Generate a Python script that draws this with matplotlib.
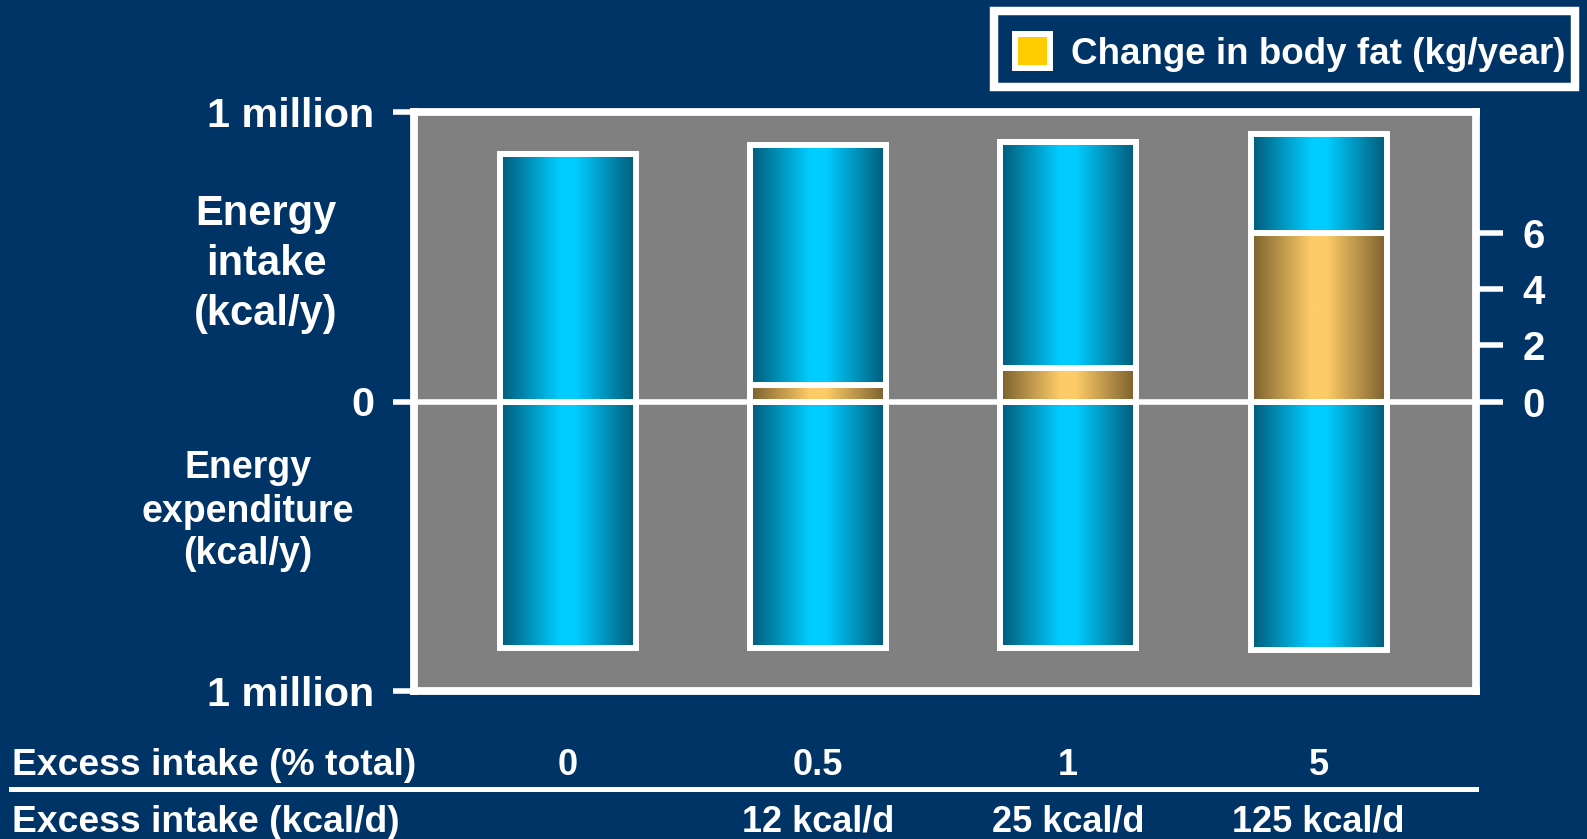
import numpy as np
import matplotlib
matplotlib.use("Agg")
import matplotlib.pyplot as plt
from matplotlib.colors import LinearSegmentedColormap
from matplotlib.patches import Rectangle
from matplotlib.lines import Line2D
from matplotlib.transforms import blended_transform_factory

# ---- data -------------------------------------------------------------
excess_pct_labels = ["0", "0.5", "1", "5"]
excess_kcal_labels = ["", "12 kcal/d", "25 kcal/d", "125 kcal/d"]
energy_intake_mkcal = [0.855, 0.885, 0.897, 0.925]       # million kcal / year
energy_expend_mkcal = [0.85, 0.85, 0.85, 0.86]          # million kcal / year
body_fat_change_kg = [0.0, 0.6, 1.2, 6.0]               # kg / year

left_tick_values = [-1, 0, 1]
left_tick_labels = ["1 million", "0", "1 million"]
right_tick_values = [0, 2, 4, 6]
right_tick_labels = ["0", "2", "4", "6"]

row1_title = "Excess intake (% total)"
row2_title = "Excess intake (kcal/d)"
legend_label = "Change in body fat (kg/year)"

# ---- style ------------------------------------------------------------
NAVY = "#003366"
GREY = "#808080"
WHITE = "white"
W, H = 1587, 839

plt.rcParams["font.family"] = ["Liberation Sans", "DejaVu Sans"]
plt.rcParams["font.weight"] = "bold"

cyan_cmap = LinearSegmentedColormap.from_list(
    "cyan_tube", [(0.0, "#005a78"), (0.44, "#00ccff"), (0.56, "#00ccff"), (1.0, "#005a78")])
gold_cmap = LinearSegmentedColormap.from_list(
    "gold_tube", [(0.0, "#7a5f2e"), (0.44, "#fdcb68"), (0.56, "#fdcb68"), (1.0, "#7a5f2e")])
gradient = np.linspace(0, 1, 256).reshape(1, -1)


def fx(px):
    return px / W


def fy(py):
    return 1 - py / H


fig = plt.figure(figsize=(W / 100, H / 100), dpi=100, facecolor=NAVY)
ax = fig.add_axes([fx(414), fy(691), fx(1475.5) - fx(414), fy(112) - fy(691)])
ax.set_facecolor(GREY)

x = np.arange(len(excess_pct_labels))
bar_w = 0.543
edge_lw = 4.3


def fill_gradient(axis, patches, cmap):
    for p in patches:
        x0, y0 = p.get_xy()
        w, h = p.get_width(), p.get_height()
        if h == 0:
            continue
        im = axis.imshow(gradient, cmap=cmap, aspect="auto", interpolation="bilinear",
                         extent=(x0, x0 + w, min(y0, y0 + h), max(y0, y0 + h)), zorder=1)
        im.set_clip_path(p)


# energy intake (up) and expenditure (down)
intake_bars = ax.bar(x, energy_intake_mkcal, bar_w, facecolor="none",
                     edgecolor=WHITE, linewidth=edge_lw, zorder=2)
expend_bars = ax.bar(x, [-v for v in energy_expend_mkcal], bar_w, facecolor="none",
                     edgecolor=WHITE, linewidth=edge_lw, zorder=2)
fill_gradient(ax, intake_bars, cyan_cmap)
fill_gradient(ax, expend_bars, cyan_cmap)
ax.axhline(0, color=WHITE, lw=4, zorder=3)

ax.set_xlim(-0.6135, 3.627)
ax.set_ylim(-1, 1)
ax.set_yticks(left_tick_values)
ax.set_yticklabels(left_tick_labels)
ax.tick_params(axis="y", direction="out", length=14.9, width=4, color=WHITE,
               labelcolor=WHITE, labelsize=29.8, pad=13.5)
ax.tick_params(axis="x", bottom=False, labelbottom=False)
for sp in ax.spines.values():
    sp.set_color(WHITE)
    sp.set_linewidth(5.6)

# body-fat change on its own right-hand scale
ax2 = ax.twinx()
fat_bars = [p for p in ax2.bar(x, body_fat_change_kg, bar_w, facecolor="none",
                               edgecolor=WHITE, linewidth=edge_lw, zorder=2)]
fill_gradient(ax2, [p for p, v in zip(fat_bars, body_fat_change_kg) if v > 0], gold_cmap)
for p, v in zip(fat_bars, body_fat_change_kg):
    if v == 0:
        p.set_visible(False)
ax2.set_xlim(ax.get_xlim())
ax2.set_ylim(-10.28, 10.28)
ax2.set_yticks(right_tick_values)
ax2.set_yticklabels(right_tick_labels)
ax2.tick_params(axis="y", direction="out", length=19.6, width=4, color=WHITE,
                labelcolor=WHITE, labelsize=29, pad=14)
for sp in ax2.spines.values():
    sp.set_visible(False)

# side titles
for txt, yb in zip(["Energy", "intake", "(kcal/y)"], [225, 275, 325]):
    fig.text(fx(266), fy(yb), txt, ha="center", va="baseline", color=WHITE,
             fontsize=30, fontweight="bold")
for txt, yb in zip(["Energy", "expenditure", "(kcal/y)"], [478.5, 521.5, 564.5]):
    fig.text(fx(248), fy(yb), txt, ha="center", va="baseline", color=WHITE,
             fontsize=27, fontweight="bold")

# rows beneath the chart
bt = blended_transform_factory(ax.transData, fig.transFigure)
fig.text(fx(12.5), fy(775), row1_title, ha="left", va="baseline", color=WHITE,
         fontsize=26.8, fontweight="bold")
fig.text(fx(12.5), fy(831.7), row2_title, ha="left", va="baseline", color=WHITE,
         fontsize=26.8, fontweight="bold")
for xi, lab in zip(x, excess_pct_labels):
    ax.text(xi, fy(775), lab, transform=bt, ha="center", va="baseline", color=WHITE,
            fontsize=26, fontweight="bold", clip_on=False)
for xi, lab in zip(x, excess_kcal_labels):
    ax.text(xi, fy(831.7), lab, transform=bt, ha="center", va="baseline", color=WHITE,
            fontsize=26, fontweight="bold", clip_on=False)
fig.add_artist(Line2D([fx(11), fx(1476)], [fy(789), fy(789)], color=WHITE, lw=3.6,
                      transform=fig.transFigure))

# legend box
fig.add_artist(Rectangle((fx(993.5), fy(87)), fx(1575) - fx(993.5), fy(11) - fy(87),
                         transform=fig.transFigure, facecolor=NAVY, edgecolor=WHITE,
                         linewidth=6.1))
fig.add_artist(Rectangle((fx(1015), fy(67.7)), fx(1049.8) - fx(1015), fy(34) - fy(67.7),
                         transform=fig.transFigure, facecolor="#ffcc00", edgecolor=WHITE,
                         linewidth=4.3))
fig.text(fx(1071), fy(64), legend_label, ha="left", va="baseline", color=WHITE,
         fontsize=26.5, fontweight="bold")

fig.savefig("out.png", dpi=100, facecolor=fig.get_facecolor())
